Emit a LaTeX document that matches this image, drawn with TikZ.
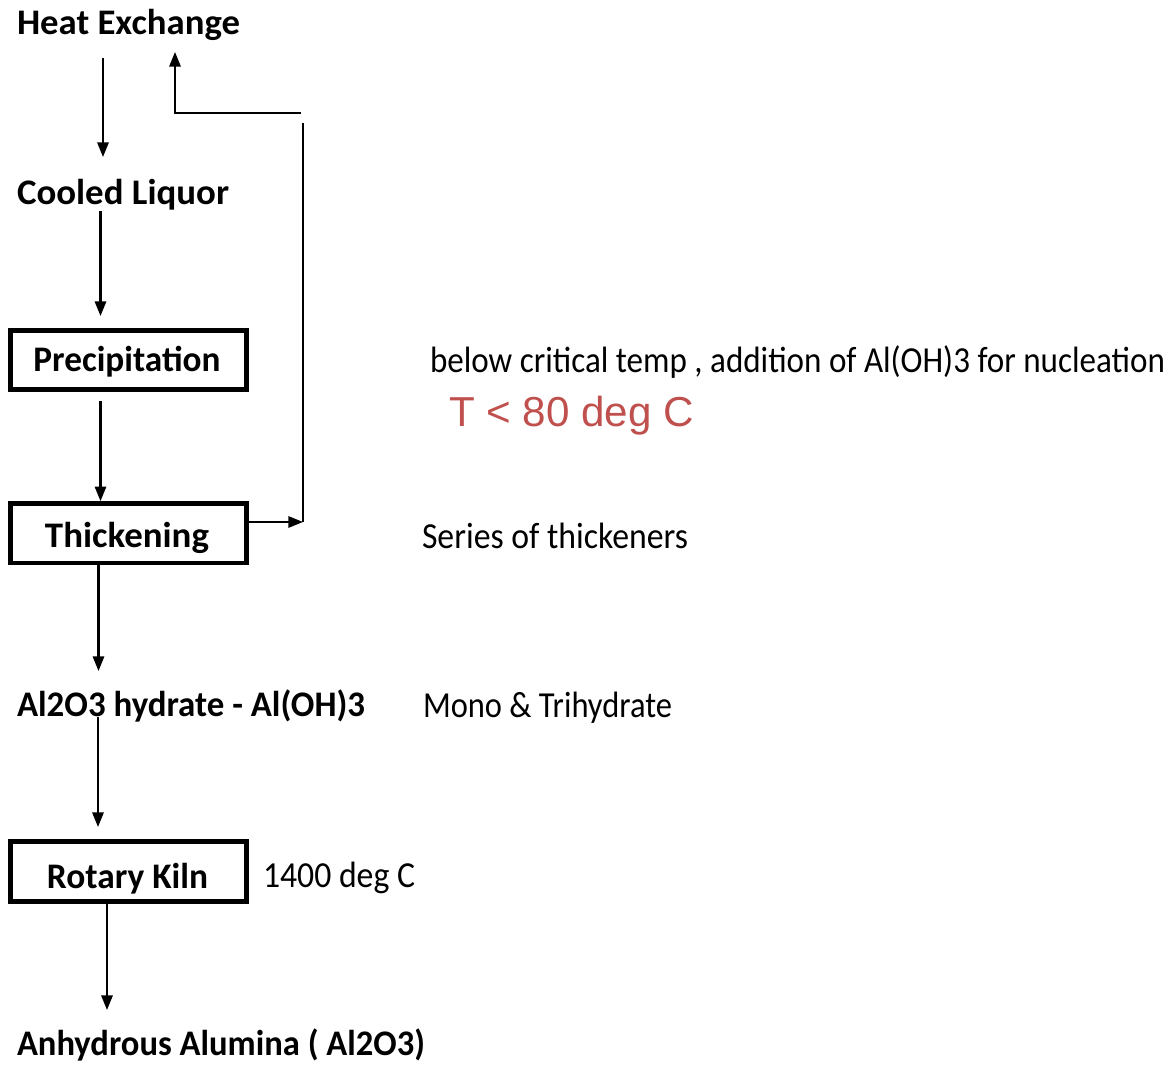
\documentclass[tikz,border=0pt]{standalone}
\usepackage{fontspec}
\setmainfont{Carlito}
\newfontfamily\arialf{Liberation Sans}
\usetikzlibrary{arrows.meta}
\definecolor{tred}{HTML}{C0504D}
\newcommand\fitw[2]{\resizebox{#1pt}{\height}{#2}}
\newcommand\bsz{\fontsize{27}{32}\selectfont\bfseries}
\newcommand\rsz{\fontsize{27.5}{32}\selectfont}
\begin{document}
\begin{tikzpicture}[x=0.75pt,y=-0.75pt,
  blabel/.style={inner sep=0pt, outer sep=0pt, anchor=base west, font=\bsz},
  clabel/.style={inner sep=0pt, outer sep=0pt, anchor=base, font=\bsz},
  rlabel/.style={inner sep=0pt, outer sep=0pt, anchor=base west, font=\rsz},
  procbox/.style={draw, line width=3.6pt, minimum width=177pt, minimum height=44.5pt, inner sep=0pt},
  arr/.style={line width=1.6pt, -{Triangle[length=11pt,width=8.5pt]}},
  ln/.style={line width=1.6pt}]
\useasboundingbox[fill=white] (0,0) rectangle (1171,1066);

% process boxes
\node[procbox] (prec) at (128.5,360) {};
\node[procbox] (thick) at (128.5,533.25) {};
\node[procbox] (kiln) at (128.25,871.5) {};

% labels
\node[blabel] (heat) at (17,35) {\fitw{167.25}{Heat Exchange}};
\node[blabel] (cooled) at (17,205) {\fitw{159}{Cooled Liquor}};
\node[clabel] (preclbl) at (127,372) {\fitw{140.25}{Precipitation}};
\node[clabel] (thicklbl) at (127,547) {\fitw{123}{Thickening}};
\node[blabel] (hydrate) at (17,716) {\fitw{261}{Al2O3 hydrate - Al(OH)3}};
\node[clabel] (kilnlbl) at (127.5,888) {\fitw{120.75}{Rotary Kiln}};
\node[blabel] (anhyd) at (17,1055) {\fitw{306}{Anhydrous Alumina ( Al2O3)}};

\node[rlabel] (note1) at (430,373) {\fitw{551.25}{below critical temp , addition of Al(OH)3 for nucleation}};
\node[inner sep=0pt, outer sep=0pt, anchor=base west, text=tred, font=\arialf\fontsize{31.4}{36}\selectfont] (note2) at (449,426) {\fitw{183.75}{T < 80 deg C}};
\node[rlabel] (note3) at (422,548) {\fitw{199.5}{Series of thickeners}};
\node[rlabel] (note4) at (423,717) {\fitw{186.75}{Mono \& Trihydrate}};
\node[rlabel] (note5) at (263,887) {\fitw{114}{1400 deg C}};

% connector end points
\coordinate (a1s) at (103,58);   \coordinate (a1e) at (103,157);
\coordinate (a2s) at (100.5,211); \coordinate (a2e) at (100.5,316);
\coordinate (a3s) at (100.5,401);
\coordinate (a4x) at (98.5,566);  \coordinate (a4e) at (98.5,671);
\coordinate (a5s) at (98,717);   \coordinate (a5e) at (98,827);
\coordinate (a6x) at (107,905);  \coordinate (a6e) at (107,1010);
\coordinate (fbA) at (303,522);
\coordinate (fbB) at (303,123);
\coordinate (fbC) at (301,113);
\coordinate (fbD) at (175,113);
\coordinate (fbE) at (175,52);

% main flow
\draw[arr] (a1s) -- (a1e);
\draw[arr] (a2s) -- (a2e);
\draw[arr] (a3s) -- (a3s |- thick.north);
\draw[arr] (a4x |- thick.south) -- (a4e);
\draw[arr] (a5s) -- (a5e);
\draw[arr] (a6x |- kiln.south) -- (a6e);

% recycle loop
\draw[arr] (thick.east |- fbA) -- (fbA);
\draw[ln] (fbA) -- (fbB);
\draw[arr] (fbC) -- (fbD) -- (fbE);
\end{tikzpicture}
\end{document}
